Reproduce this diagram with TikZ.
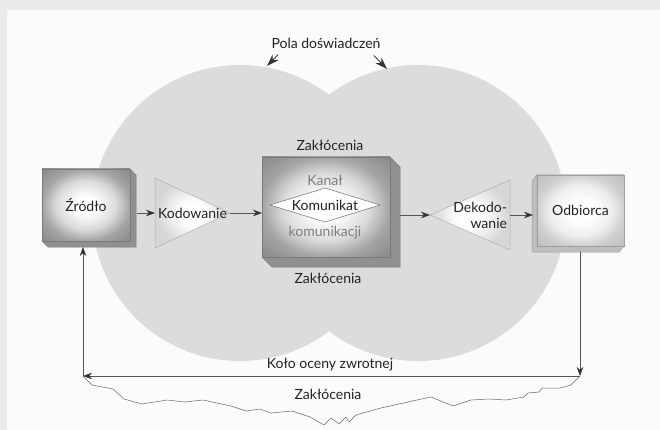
\documentclass[tikz,border=0pt]{standalone}
\usepackage{fontspec}
\setmainfont{Lato}
\usetikzlibrary{arrows.meta,shapes.geometric,calc}
\pgfdeclarelayer{back}
\pgfdeclarelayer{mid}
\pgfsetlayers{back,mid,main}
\definecolor{txt}{HTML}{222222}
\definecolor{soft}{HTML}{7E7E7E}
\definecolor{outerbg}{HTML}{EBEBEC}
\definecolor{panel}{HTML}{FBFBFB}
\definecolor{circ}{HTML}{DCDCDC}
\definecolor{linecol}{HTML}{555555}
\definecolor{boxline}{HTML}{7A7A7A}
\definecolor{darkmid}{HTML}{DADADA}
\definecolor{darkedge}{HTML}{A4A4A4}
\definecolor{darkout}{HTML}{8C8C8C}
\definecolor{darkside}{HTML}{909090}
\definecolor{lightmid}{HTML}{EEEEEE}
\definecolor{lightedge}{HTML}{D0D0D0}
\definecolor{lightout}{HTML}{C0C0C0}
\definecolor{lightside}{HTML}{BEBEBE}
\definecolor{lightline}{HTML}{9E9E9E}
\definecolor{triline}{HTML}{B0B0B0}
\definecolor{triout}{HTML}{D6D6D6}
\pgfdeclareradialshading{darkshade}{\pgfpoint{0bp}{0bp}}{color(0bp)=(white); color(6bp)=(white); color(17bp)=(darkmid); color(25bp)=(darkedge); color(34bp)=(darkout); color(50bp)=(darkout)}
\pgfdeclareradialshading{lightshade}{\pgfpoint{0bp}{0bp}}{color(0bp)=(white); color(7bp)=(white); color(18bp)=(lightmid); color(25bp)=(lightedge); color(34bp)=(lightout); color(50bp)=(lightout)}
\pgfdeclareradialshading{funnelshade}{\pgfpoint{0bp}{0bp}}{color(0bp)=(white); color(8bp)=(white); color(24bp)=(triout); color(50bp)=(triout)}
\begin{document}
\begin{tikzpicture}[x=1pt,y=-1pt,
  every node/.style={font=\fontsize{14}{16}\selectfont, text=txt, outer sep=0pt},
  darkbox/.style={rectangle, draw=boxline, line width=0.5pt, shading=darkshade},
  lightbox/.style={rectangle, draw=lightline, line width=0.5pt, shading=lightshade},
  darkface/.style={fill=darkside, draw=boxline, line width=0.5pt, line join=round},
  lightface/.style={fill=lightside, draw=lightline, line width=0.5pt, line join=round},
  funnel/.style={draw=triline, line width=0.5pt, shading=funnelshade},
  arr/.style={draw=linecol, line width=0.6pt, -{Stealth[length=9pt,width=6.5pt,color=black!80]}},
  bigarr/.style={draw=black!75, line width=0.9pt, -{Stealth[length=12pt,width=8pt,color=black!80]}},
  noise/.style={draw=black!60, line width=0.5pt, line join=round},
  graytext/.style={text=soft}
]
\useasboundingbox (0,0) rectangle (660,430);
\begin{pgfonlayer}{back}
  \fill[outerbg] (0,0) rectangle (660,430);
  \fill[panel] (7,10) rectangle (660,430);
  \fill[circ] (240,213) circle[radius=148];
  \fill[circ] (418,213) circle[radius=148];
\end{pgfonlayer}

% nodes
\node (pola) at (326,43) {Pola doświadczeń};
\coordinate (cL) at (267,66);
\coordinate (cR) at (387,69);

\node[darkbox, minimum width=88pt, minimum height=72pt] (src) at (86,205) {Źródło};
\node[inner sep=0pt, text width=75pt, align=center, minimum height=70pt] (enc) at (192.5,213) {Kodowanie};
\node[darkbox, minimum width=128pt, minimum height=100pt] (chan) at (326,207) {};
\node[graytext] (kanal) at (325,180) {Kanał};
\node[diamond, aspect=3.2, inner sep=1pt, minimum width=110pt, minimum height=34pt,
      fill=white, draw=black!50, line width=0.6pt] (msg) at (325,205) {Komunikat};
\node[graytext] (komk) at (325,233) {komunikacji};
\node (ztop) at (330,145) {Zakłócenia};
\node (zbot) at (328,278) {Zakłócenia};
\node[inner sep=3pt, text width=74pt, align=right, minimum height=70pt] (dec) at (470,215) {Dekodo-\\wanie};
\node[lightbox, minimum width=87pt, minimum height=71pt] (rcv) at (580.5,210.5) {Odbiorca};
\node (kolo) at (330,365) {Koło oceny zwrotnej};
\node (znoise) at (328,394) {Zakłócenia};
\coordinate (fbR) at (580,376);
\coordinate (fbL) at (83,376);

% extrusions and funnels
\begin{pgfonlayer}{mid}
  \filldraw[darkface] (src.north east) -- ++(6,6) -- ($(src.south east)+(6,6)$) -- ($(src.south west)+(6,6)$) -- (src.south west) -- (src.south east) -- cycle;
  \filldraw[darkface] (chan.north east) -- ++(10,10) -- ($(chan.south east)+(10,10)$) -- ($(chan.south west)+(10,10)$) -- (chan.south west) -- (chan.south east) -- cycle;
  \filldraw[lightface] (rcv.north west) -- ++(-5,6) -- ($(rcv.south west)+(-5,6)$) -- ($(rcv.south east)+(-5,6)$) -- (rcv.south east) -- (rcv.south west) -- cycle;
  \shade[funnel] (enc.north west) -- (enc.south west) -- (enc.east) -- cycle;
  \shade[funnel] (dec.north east) -- (dec.south east) -- (dec.west) -- cycle;
\end{pgfonlayer}

% connectors
\draw[arr] ($(src.east |- enc.west)+(7,0)$) -- (enc.west);
\draw[arr] (enc.east) -- (enc.east -| chan.west);
\draw[arr] ($(chan.east |- dec.west)+(10,0)$) -- (dec.west);
\draw[arr] (dec.east) -- ($(dec.east -| rcv.west)+(-4,0)$);
\draw[arr] ($(rcv.south)+(-0.5,6)$) -- (fbR);
\draw[arr] (fbR) -- (fbL);
\draw[arr] (fbL) -- ($(fbL |- src.south)+(0,6)$);
\draw[bigarr] ([shift={(10,3)}]pola.south west) -- (cL);
\draw[bigarr] ([shift={(-10,4)}]pola.south east) -- (cR);

% noise line
\draw[noise] (fbL) -- (92,385) -- (113,389) -- (124,399) -- (142,404) -- (167,400) -- (185,402)
  -- (203,400) -- (231,406) -- (246,411) -- (260,409) -- (271,413) -- (292,411) -- (310,417)
  -- (324,425) -- (331,418) -- (339,424) -- (346,417) -- (349,422) -- (356,415) -- (381,408)
  -- (417,400) -- (431,397) -- (453,406) -- (471,400) -- (489,399) -- (506,400) -- (524,397)
  -- (528,393) -- (539,392) -- (542,388) -- (560,388) -- (571,385) -- (576,380) -- (fbR);
\end{tikzpicture}
\end{document}
